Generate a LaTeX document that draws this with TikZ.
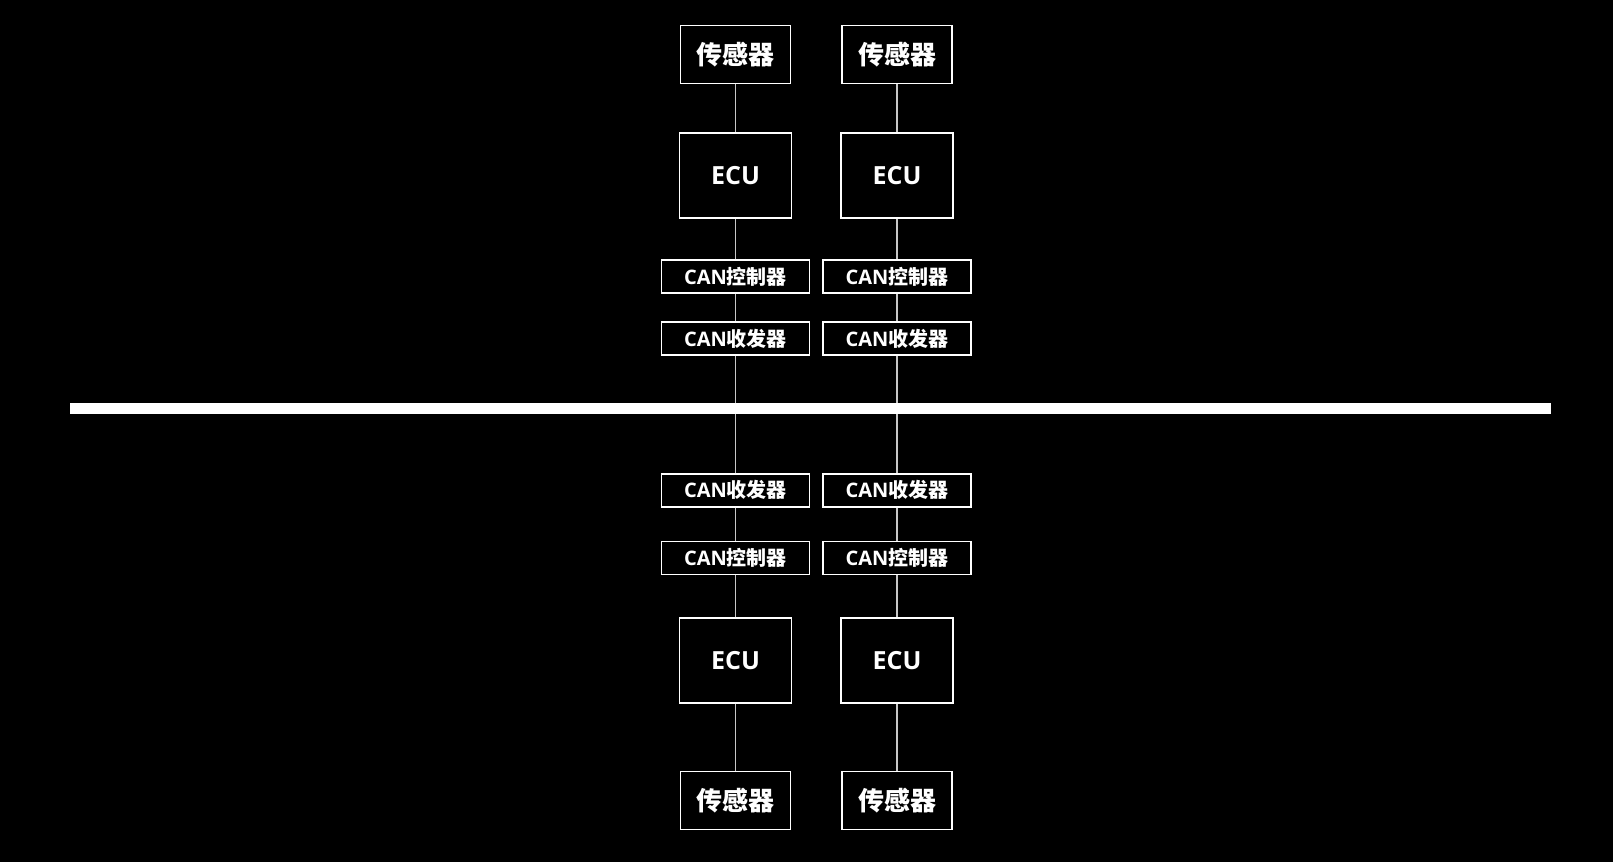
\documentclass[tikz,border=0pt]{standalone}
\usepackage{fontspec}
\setmainfont{Noto Sans CJK SC}
\newfontfamily\latinf{Open Sans}
\begin{document}
\begin{tikzpicture}[x=1pt,y=-1pt,
  box/.style={draw=white,line width=1.8pt,fill=black,text=white,font=\bfseries,inner sep=0pt,anchor=center},
  sensor/.style={box,minimum width=110pt,minimum height=58pt,font=\bfseries\fontsize{26}{26}\selectfont},
  ecu/.style={box,minimum width=112pt,minimum height=85pt,font=\bfseries\fontsize{25}{25}\selectfont},
  canbox/.style={box,minimum width=148pt,minimum height=33pt,font=\bfseries\fontsize{20}{20}\selectfont},
  wire/.style={draw=white!78!black,line width=1.3pt}]
\fill[black] (0,0) rectangle (1613,862);
\useasboundingbox (0,0) rectangle (1613,862);
\node[fill=white,minimum width=1481pt,minimum height=11pt,inner sep=0pt] (bus) at (810.5,408.7) {};
\foreach \n/\cx in {a/735.5,b/897}{
  \node[sensor] (s1\n) at (\cx,54.5) {传感器};
  \node[ecu] (e1\n) at (\cx,175.3) {{\latinf\bfseries ECU}};
  \node[canbox] (c1\n) at (\cx,276.7) {{\latinf\bfseries CAN}控制器};
  \node[canbox] (t1\n) at (\cx,338.8) {{\latinf\bfseries CAN}收发器};
  \node[canbox] (t2\n) at (\cx,490.3) {{\latinf\bfseries CAN}收发器};
  \node[canbox] (c2\n) at (\cx,558) {{\latinf\bfseries CAN}控制器};
  \node[ecu] (e2\n) at (\cx,660.5) {{\latinf\bfseries ECU}};
  \node[sensor] (s2\n) at (\cx,800.5) {传感器};
  \coordinate (bt\n) at (bus.north -| t1\n);
  \coordinate (bb\n) at (bus.south -| t2\n);
  \draw[wire] (s1\n) -- (e1\n);
  \draw[wire] (e1\n) -- (c1\n);
  \draw[wire] (c1\n) -- (t1\n);
  \draw[wire] (t1\n) -- (bt\n);
  \draw[wire] (bb\n) -- (t2\n);
  \draw[wire] (t2\n) -- (c2\n);
  \draw[wire] (c2\n) -- (e2\n);
  \draw[wire] (e2\n) -- (s2\n);
}
\end{tikzpicture}
\end{document}
